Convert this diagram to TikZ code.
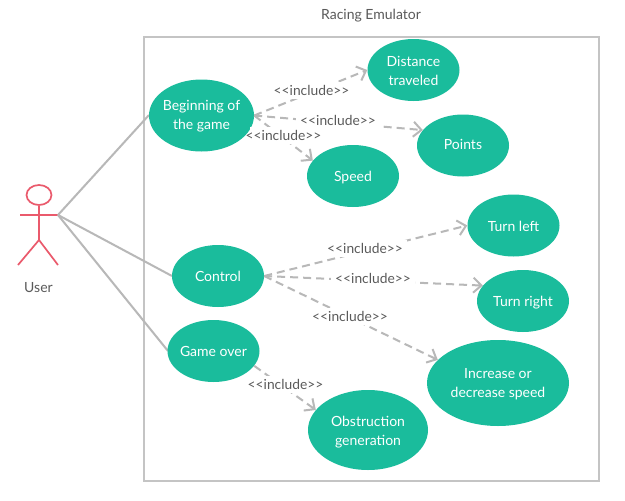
\documentclass[tikz,border=0pt]{standalone}
\usepackage{fontspec}
\setmainfont{Lato}
\usetikzlibrary{arrows.meta,shapes.geometric}
\definecolor{teal1}{HTML}{1ABC9C}
\definecolor{linegray}{HTML}{B8B8B8}
\definecolor{boxgray}{HTML}{C4C4C4}
\definecolor{txtgray}{HTML}{5A5A5A}
\definecolor{actorred}{HTML}{EA5A6C}
\newcommand\uctxt[2][-5.5pt]{\makebox[0pt]{\raisebox{#1}[0pt][0pt]{\setlength{\tabcolsep}{0pt}\begin{tabular}{c}#2\end{tabular}}}}
\tikzset{
  usecase/.style={ellipse,fill=teal1,text=white,inner sep=0pt,font=\fontsize{14}{19}\selectfont},
  assoc/.style={draw=linegray,line width=2pt},
  incl/.style={draw=linegray,line width=2pt,dash pattern=on 8pt off 5pt,-{Straight Barb[length=8pt,width=15pt,line width=2pt]}},
  lbl/.style={fill=white,text=txtgray,inner xsep=4pt,inner ysep=3pt,font=\fontsize{13.8}{15}\selectfont},
  plain/.style={text=txtgray,font=\fontsize{14}{15}\selectfont},
  actorline/.style={draw=actorred,line width=1.7pt}
}
\begin{document}
\begin{tikzpicture}[x=1pt,y=-1pt]
\useasboundingbox[fill=white] (0,0) rectangle (625,501);
\node[plain] (title) at (371,15.5) {Racing Emulator};
\draw[draw=boxgray,line width=2pt] (144,37) rectangle (599,481);
% actor
\coordinate (hand) at (58,215);
\coordinate (handl) at (20,215);
\coordinate (hip) at (39,240);
\coordinate (footl) at (18,265);
\coordinate (footr) at (58,265);
\node[ellipse,draw=actorred,line width=1.7pt,minimum width=25pt,minimum height=20pt,inner sep=0pt] (head) at (39,195) {};
\draw[actorline] (head.south) -- (hip);
\draw[actorline] (handl) -- (hand);
\draw[actorline] (footl) -- (hip) -- (footr);
\node[plain] (user) at (38.5,287.5) {User};
% associations
\coordinate (begw) at (149,115);
\coordinate (conw) at (172,276);
\coordinate (gamw) at (168,351);
\draw[assoc] (hand) -- (begw);
\draw[assoc] (hand) -- (conw);
\draw[assoc] (hand) -- (gamw);
% use cases
\node[usecase,minimum width=105pt,minimum height=72pt] (beg) at (201.5,115.5) {\uctxt[-4.5pt]{Beginning of\\the game}};
\node[usecase,minimum width=92pt,minimum height=62pt] (dist) at (413.5,70) {\uctxt{Distance\\traveled}};
\node[usecase,minimum width=92pt,minimum height=62pt] (pts) at (463,145.5) {\uctxt[-3.5pt]{Points}};
\node[usecase,minimum width=92pt,minimum height=62pt] (spd) at (353,176) {\uctxt{Speed}};
\node[usecase,minimum width=92pt,minimum height=62pt] (con) at (218,276) {\uctxt{Control}};
\node[usecase,minimum width=92pt,minimum height=62pt] (tl) at (513.5,225.5) {\uctxt{Turn left}};
\node[usecase,minimum width=92pt,minimum height=62pt] (tr) at (523,301) {\uctxt{Turn right}};
\node[usecase,minimum width=142pt,minimum height=86pt] (inc) at (498,383) {\uctxt[-4.5pt]{Increase or\\decrease speed}};
\node[usecase,minimum width=92pt,minimum height=62pt] (gam) at (213.5,351) {\uctxt{Game over}};
\node[usecase,minimum width=120pt,minimum height=80pt] (obs) at (368,430) {\uctxt{Obstruction\\generation}};
% include connectors
\draw[incl] (beg.east) -- (dist.west);
\draw[incl] (beg.east) -- (pts.159);
\draw[incl] (beg.east) -- (spd.159);
\draw[incl] (con.east) -- (tl.west);
\draw[incl] (con.east) -- (tr.159);
\draw[incl] (con.east) -- (inc.159);
\draw[incl] (gam.340) -- (obs.159);
% include labels
\node[lbl] (l1) at (311.5,90.5) {<{}<include>{}>};
\node[lbl] (l2) at (338,120.5) {<{}<include>{}>};
\node[lbl,inner xsep=-4pt] (l3) at (283.5,135.5) {<{}<include>{}>};
\node[lbl] (l4) at (365,248.5) {<{}<include>{}>};
\node[lbl] (l5) at (373,278.5) {<{}<include>{}>};
\node[lbl] (l6) at (350,316.5) {<{}<include>{}>};
\node[lbl] (l7) at (285.5,384.5) {<{}<include>{}>};
\end{tikzpicture}
\end{document}
